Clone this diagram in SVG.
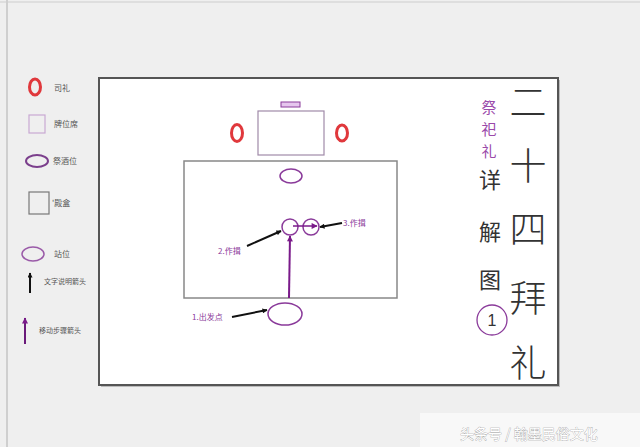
<svg xmlns="http://www.w3.org/2000/svg" width="640" height="447" viewBox="0 0 640 447">
<defs>
<style>
text{font-family:"Noto Sans CJK SC","Liberation Sans",sans-serif;}
.lg{font-size:8px;fill:#555;}
.lab{font-size:8px;fill:#8a3a9a;}
.red{fill:none;stroke:#e0383c;stroke-width:3;}
.pu{fill:none;stroke:#8a3a9a;stroke-width:1.5;}
.big{font-size:37px;fill:#333;font-weight:300;text-anchor:middle;}
.mid{font-size:22px;fill:#333;text-anchor:middle;}
.sm{font-size:15px;fill:#9a4aaa;text-anchor:middle;}
</style>
<marker id="ab" viewBox="0 0 10 10" refX="9" refY="5" markerWidth="7" markerHeight="5" orient="auto" markerUnits="userSpaceOnUse"><path d="M0,0 L10,5 L0,10 z" fill="#111"/></marker>
<marker id="ap" viewBox="0 0 10 10" refX="9" refY="5" markerWidth="7" markerHeight="6" orient="auto" markerUnits="userSpaceOnUse"><path d="M0,0 L10,5 L0,10 z" fill="#7a1a8a"/></marker>
</defs>
<rect width="640" height="447" fill="#efefef"/>
<line x1="0" y1="2" x2="640" y2="2" stroke="#d8d8d8" stroke-width="1.5"/>
<line x1="7" y1="0" x2="7" y2="447" stroke="#cfcfcf" stroke-width="2"/>
<rect x="420" y="413" width="220" height="34" fill="#f8f8f8"/>

<g id="legend">
<ellipse cx="35" cy="87" rx="5.5" ry="8" class="red"/>
<text x="54" y="91" class="lg">司礼</text>
<rect x="29" y="115" width="16" height="18" fill="none" stroke="#c8a8d2" stroke-width="1.2"/>
<text x="54" y="127" class="lg">牌位席</text>
<ellipse cx="37" cy="161" rx="11" ry="6" fill="none" stroke="#7b3f8c" stroke-width="2"/>
<text x="53" y="164" class="lg">祭酒位</text>
<rect x="29" y="192" width="20" height="22" fill="none" stroke="#777" stroke-width="1.2"/>
<text x="52" y="206" class="lg">'殿盒</text>
<ellipse cx="33" cy="254" rx="11" ry="7" fill="none" stroke="#9a5aa8" stroke-width="1.5"/>
<text x="54" y="257" class="lg">站位</text>
<line x1="30" y1="293" x2="30" y2="273" stroke="#111" stroke-width="2" marker-end="url(#ab)"/>
<text x="44" y="284" class="lg" style="font-size:7px">文字说明箭头</text>
<line x1="25" y1="344" x2="25" y2="318" stroke="#6a1a7a" stroke-width="2" marker-end="url(#ap)"/>
<text x="39" y="333" class="lg" style="font-size:7px">移动步骤箭头</text>
</g>

<g id="panel">
<rect x="101" y="80" width="459" height="307" fill="#bbb"/>
<rect x="99" y="78" width="459" height="307" fill="#fff" stroke="#555" stroke-width="2"/>
</g>

<g id="tablet"><rect x="281" y="102" width="19" height="5" fill="#e6c6ee" stroke="#8a3a9a" stroke-width="1"/></g>
<g id="altar"><rect x="258" y="111" width="66" height="44" fill="none" stroke="#a08aa8" stroke-width="1.2"/></g>
<g id="sili-left"><ellipse cx="237" cy="133" rx="5.5" ry="8.5" class="red"/></g>
<g id="sili-right"><ellipse cx="342" cy="133" rx="5.5" ry="8" class="red"/></g>
<g id="hall"><rect x="184" y="161" width="213" height="137" fill="none" stroke="#888" stroke-width="1.5"/></g>
<g id="jiujiu"><ellipse cx="291" cy="176" rx="11" ry="7" class="pu"/></g>
<g id="pos2"><circle cx="290" cy="227" r="8" class="pu"/></g>
<g id="pos3"><circle cx="311" cy="227" r="8" class="pu"/></g>
<g id="start"><ellipse cx="285" cy="314" rx="17" ry="11" class="pu"/></g>

<g id="connectors">
<line x1="289" y1="298" x2="290" y2="236" stroke="#7a1a8a" stroke-width="2" marker-end="url(#ap)"/>
<line x1="293" y1="226" x2="317" y2="226" stroke="#7a1a8a" stroke-width="1.5" marker-end="url(#ap)"/>
<line x1="247" y1="246" x2="281" y2="231" stroke="#111" stroke-width="2" marker-end="url(#ab)"/>
<line x1="342" y1="223" x2="320" y2="227" stroke="#111" stroke-width="2" marker-end="url(#ab)"/>
<line x1="232" y1="317" x2="267" y2="310" stroke="#111" stroke-width="2" marker-end="url(#ab)"/>
</g>

<g id="labels">
<text x="218" y="254" class="lab">2.作揖</text>
<text x="343" y="226" class="lab">3.作揖</text>
<text x="192" y="320" class="lab">1.出发点</text>
</g>

<g id="title">
<text x="489" y="113" class="sm">祭</text>
<text x="489" y="135" class="sm">祀</text>
<text x="489" y="157" class="sm">礼</text>
<text x="490" y="188" class="mid">详</text>
<text x="490" y="240" class="mid">解</text>
<text x="490" y="288" class="mid">图</text>
<circle cx="492" cy="320" r="15" fill="none" stroke="#8a3a9a" stroke-width="1.3"/>
<text x="492" y="326" style="font-size:16px;fill:#333;text-anchor:middle;font-family:'Liberation Sans',sans-serif">1</text>
<text x="528" y="116" class="big">二</text>
<text x="528" y="180" class="big">十</text>
<text x="528" y="243" class="big">四</text>
<text x="528" y="312" class="big">拜</text>
<text x="528" y="377" class="big">礼</text>
</g>

<g id="watermark">
<text x="460" y="439" style="font-size:14px;fill:#fff;stroke:#999;stroke-width:0.6;paint-order:stroke">头条号 / 翰墨民俗文化</text>
</g>
</svg>
